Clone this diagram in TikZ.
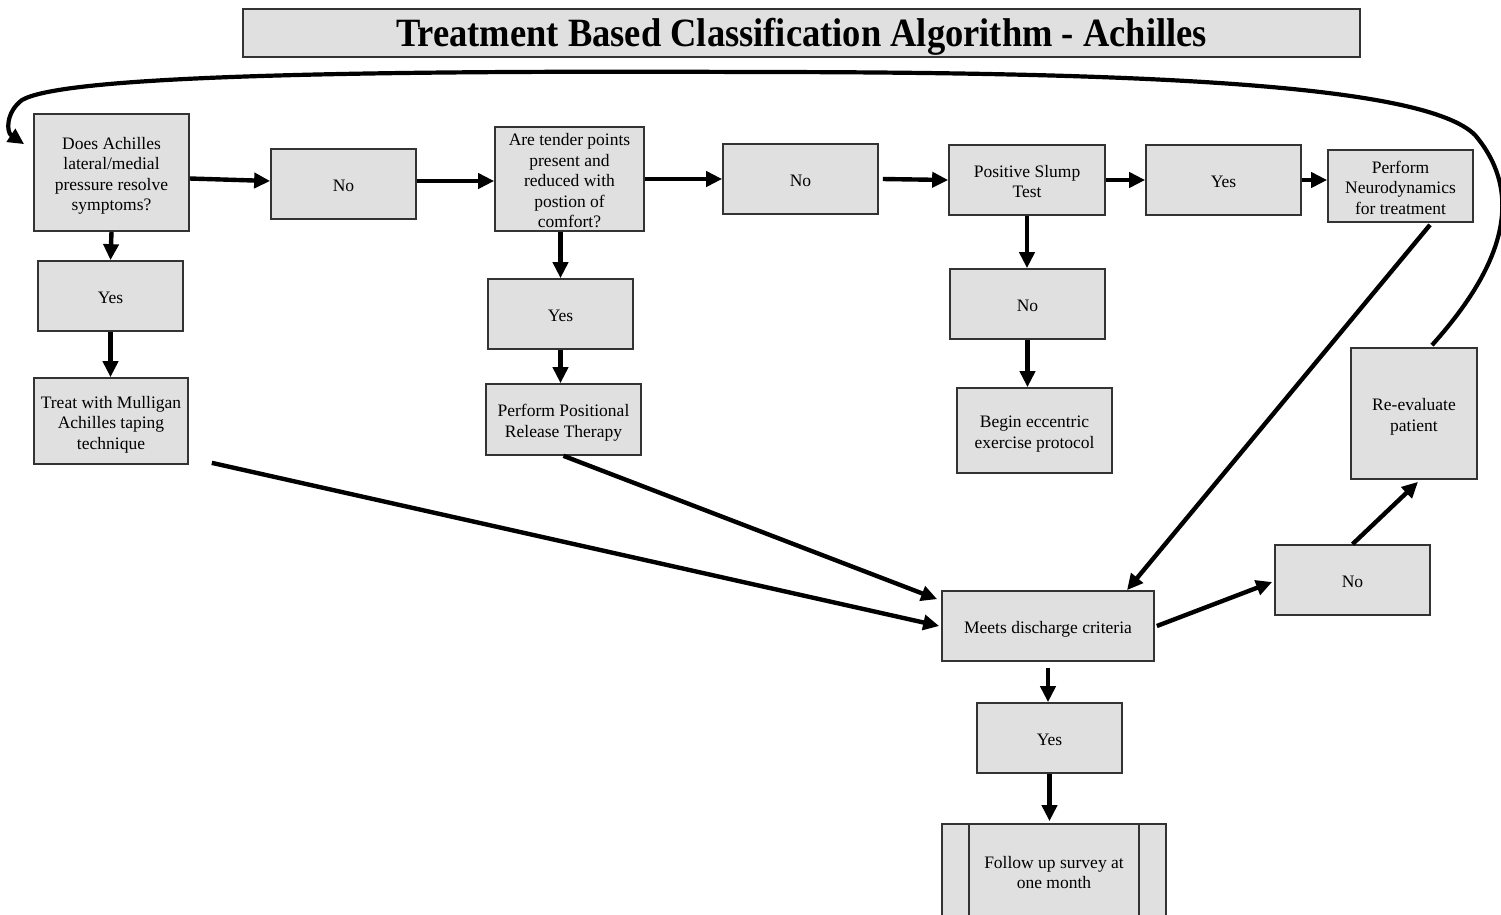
\documentclass[tikz,border=0pt]{standalone}
\usepackage{fontspec}
\setmainfont{Liberation Serif}
\usetikzlibrary{arrows.meta}
\definecolor{boxfill}{HTML}{E0E0E0}
\definecolor{boxline}{HTML}{333333}
\newcommand\bt[1]{\raisebox{-3.5pt}[\height][\depth]{\begin{tabular}{@{}c@{}}#1\end{tabular}}}
\begin{document}
\begin{tikzpicture}[x=1pt,y=-1pt,
  flowbox/.style={draw=boxline, fill=boxfill, line width=1.7pt, inner sep=0pt,
                  font=\fontsize{17.5}{20.5}\selectfont},
  titlebox/.style={draw=boxline, fill=boxfill, line width=1.7pt, inner sep=0pt,
                  font=\fontsize{36.5}{40}\selectfont\bfseries},
  conn/.style={line width=4.4pt, -{Triangle[length=16pt,width=15pt]}},
  bigloop/.style={line width=4.2pt, -{Triangle[length=16pt,width=15pt]}}]
\useasboundingbox (0,0) rectangle (1501,914);

% title
\node[titlebox, minimum width=1117pt, minimum height=48pt] (title) at (801.5,33)
  {\raisebox{-4pt}[\height][\depth]{\scalebox{1}[1.1]{Treatment Based Classification Algorithm - Achilles}}};

% row 1
\node[flowbox, minimum width=155pt, minimum height=117pt] (q1) at (111.5,172.5)
  {\bt{Does Achilles\\lateral/medial\\pressure resolve\\symptoms?}};
\node[flowbox, minimum width=145pt, minimum height=70pt] (no1) at (343.5,184) {\bt{No}};
\node[flowbox, minimum width=149pt, minimum height=104pt] (q2) at (569.5,179)
  {\bt{Are tender points\\present and\\reduced with\\postion of\\comfort?}};
\node[flowbox, minimum width=155pt, minimum height=70pt] (no2) at (800.5,179) {\bt{No}};
\node[flowbox, minimum width=156pt, minimum height=70pt] (slump) at (1027,180)
  {\bt{Positive Slump\\Test}};
\node[flowbox, minimum width=155pt, minimum height=70pt] (yes3) at (1223.5,180) {\bt{Yes}};
\node[flowbox, minimum width=145pt, minimum height=72pt] (neuro) at (1400.5,186)
  {\bt{Perform\\Neurodynamics\\for treatment}};

% column nodes
\node[flowbox, minimum width=145pt, minimum height=70pt] (yes1) at (110.5,296) {\bt{Yes}};
\node[flowbox, minimum width=154pt, minimum height=86pt] (treat) at (111,421)
  {\bt{Treat with Mulligan\\Achilles taping\\technique}};
\node[flowbox, minimum width=145pt, minimum height=70pt] (yes2) at (560.5,314) {\bt{Yes}};
\node[flowbox, minimum width=155pt, minimum height=71pt] (prt) at (563.5,419.5)
  {\bt{Perform Positional\\Release Therapy}};
\node[flowbox, minimum width=155pt, minimum height=70pt] (no3) at (1027.5,304) {\bt{No}};
\node[flowbox, minimum width=155pt, minimum height=85pt] (ecc) at (1034.5,430.5)
  {\bt{Begin eccentric\\exercise protocol}};
\node[flowbox, minimum width=126pt, minimum height=131pt] (reeval) at (1414,413.5)
  {\bt{Re-evaluate\\patient}};

% lower part
\node[flowbox, minimum width=212pt, minimum height=70pt] (discharge) at (1048,626)
  {\bt{Meets discharge criteria}};
\node[flowbox, minimum width=155pt, minimum height=70pt] (no4) at (1352.5,580) {\bt{No}};
\node[flowbox, minimum width=145pt, minimum height=70pt] (yes4) at (1049.5,738) {\bt{Yes}};
\node[flowbox, minimum width=224pt, minimum height=94pt] (follow) at (1054,871)
  {\bt{Follow up survey at\\one month}};
\draw[draw=boxline, line width=1.7pt]
  ([xshift=28pt]follow.north west) -- ([xshift=28pt]follow.south west)
  ([xshift=-28pt]follow.north east) -- ([xshift=-28pt]follow.south east);

% horizontal connectors
\draw[conn] ([yshift=-6pt]q1.east) -- ([yshift=3pt]no1.west);
\draw[conn] ([yshift=3pt]no1.east) -- ([yshift=-2pt]q2.west);
\draw[conn] (q2.east) -- (q2.east -| no2.west);
\draw[conn] ([xshift=4pt]no2.east) -- (slump.west);
\draw[conn] (slump.east) -- (yes3.west);
\draw[conn] (yes3.east) -- (yes3.east -| neuro.west);

% vertical connectors
\draw[conn] (q1.south) -- (yes1.north);
\draw[conn] (yes1.south) -- (yes1.south |- treat.north);
\draw[conn] (q2.south -| yes2.north) -- (yes2.north);
\draw[conn] (yes2.south) -- (yes2.south |- prt.north);
\draw[conn] (slump.south) -- (slump.south |- no3.north);
\draw[conn] (no3.south) -- (no3.south |- ecc.north);
\draw[conn] ([yshift=-6pt]discharge.south) -- (discharge.south |- yes4.north);
\draw[conn] (yes4.south) -- ([yshift=2pt]yes4.south |- follow.north);

% diagonal connectors
\draw[conn] ([xshift=23pt,yshift=2pt]treat.south east) -- ([xshift=-2pt]discharge.west);
\draw[conn] (prt.south) -- ([xshift=-4pt,yshift=-9pt]discharge.north west);
\draw[conn] ([xshift=29.5pt,yshift=-2pt]neuro.south) -- ([xshift=79pt]discharge.north);
\draw[conn] ([xshift=2pt]discharge.east) -- ([xshift=-2pt,yshift=-2pt]no4.west);
\draw[conn] (no4.north) -- ([xshift=4pt,yshift=-2pt]reeval.south);

% loop back to start
\draw[bigloop] ([xshift=18pt,yshift=2pt]reeval.north)
  .. controls (1495,275) and (1530,200) .. (1475,135)
  .. controls (1425,85) and (1150,72) .. (750,72)
  .. controls (300,70) and (60,78) .. (22,100)
  .. controls (6,112) and (6,132) .. ([xshift=-9pt,yshift=-31pt]q1.north west);
\end{tikzpicture}
\end{document}
